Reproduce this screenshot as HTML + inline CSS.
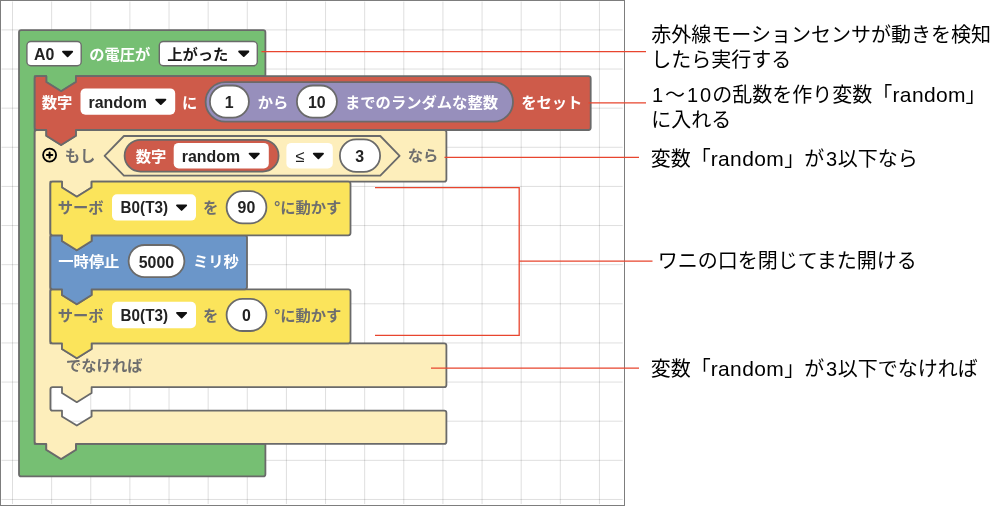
<!DOCTYPE html>
<html lang="ja"><head><meta charset="utf-8"><title>ブロックプログラムの説明</title>
<style>
html,body{margin:0;padding:0;background:#fff}
body{width:1000px;height:506px;overflow:hidden;font-family:"Liberation Sans","Noto Sans CJK JP",sans-serif}
svg{display:block;will-change:transform}
svg text{font-family:"Liberation Sans","Noto Sans CJK JP",sans-serif;font-weight:bold;font-size:15.9px}
svg text.bl{font-size:15.3px}
svg text.an{font-weight:normal;font-size:20px;fill:#000}
</style></head><body>
<svg width="1000" height="506" viewBox="0 0 1000 506">
<rect x="0.5" y="0.5" width="624" height="505" fill="#fff" stroke="#7d7d7d" stroke-width="1"/>
<path d="M12.5 1.5V504M51.63 1.5V504M90.76 1.5V504M129.89 1.5V504M169.02 1.5V504M208.15 1.5V504M247.28 1.5V504M286.41 1.5V504M325.54 1.5V504M364.67 1.5V504M403.8 1.5V504M442.93 1.5V504M482.06 1.5V504M521.19 1.5V504M560.32 1.5V504M599.45 1.5V504" stroke="#000" stroke-opacity="0.13" stroke-width="1" fill="none"/>
<path d="M1.5 29.9H622.7M1.5 69.03H622.7M1.5 108.16H622.7M1.5 147.29H622.7M1.5 186.42H622.7M1.5 225.55H622.7M1.5 264.68H622.7M1.5 303.81H622.7M1.5 342.94H622.7M1.5 382.07H622.7M1.5 421.2H622.7M1.5 460.33H622.7M1.5 499.46H622.7" stroke="#000" stroke-opacity="0.13" stroke-width="1" fill="none"/>
<path d="M19 32.3Q19 30.1 21.2 30.1L263.2 30.1 Q265.4 30.1 265.4 32.3L265.4 76.2L75.9 76.2 V82 L61.1 91.2 L46.3 82 V76.2L34.7 76.2L34.7 443.9L46.3 443.9 V449.7 L61.1 458.9 L75.9 449.7 V443.9L265.4 443.9L265.4 474.2 Q265.4 476.4 263.2 476.4L21.2 476.4 Q19 476.4 19 474.2 Z" fill="#76bf73" stroke="#6a6a6a" stroke-width="1.8" stroke-linejoin="round"/>
<path d="M34.7 132.2Q34.7 130 36.9 130L46.3 130 V135.8 L61.1 145 L75.9 135.8 V130L444.2 130 Q446.4 130 446.4 132.2L446.4 179.5 Q446.4 181.7 444.2 181.7L91.6 181.7 V187.5 L76.8 196.7 L62 187.5 V181.7L50.4 181.7 V343.3L62 343.3 V349.1 L76.8 358.3 L91.6 349.1 V343.3L444.2 343.3 Q446.4 343.3 446.4 345.5L446.4 385 Q446.4 387.2 444.2 387.2L91.6 387.2 V393 L76.8 402.2 L62 393 V387.2L52.6 387.2 Q50.4 387.2 50.4 389.4L50.4 408.4 Q50.4 410.6 52.6 410.6L62 410.6 V416.4 L76.8 425.6 L91.6 416.4 V410.6L444.2 410.6 Q446.4 410.6 446.4 412.8L446.4 441.7 Q446.4 443.9 444.2 443.9L75.9 443.9 V449.7 L61.1 458.9 L46.3 449.7 V443.9L36.9 443.9 Q34.7 443.9 34.7 441.7 Z" fill="#fdeebb" stroke="#6a6a6a" stroke-width="1.8" stroke-linejoin="round"/>
<path d="M50.4 291.5Q50.4 289.3 52.6 289.3L62 289.3 V295.1 L76.8 304.3 L91.6 295.1 V289.3L348.3 289.3 Q350.5 289.3 350.5 291.5L350.5 341.1 Q350.5 343.3 348.3 343.3L91.6 343.3 V349.1 L76.8 358.3 L62 349.1 V343.3L52.6 343.3 Q50.4 343.3 50.4 341.1 Z" fill="#fbe45b" stroke="#6a6a6a" stroke-width="1.8" stroke-linejoin="round"/>
<path d="M50.4 237.5Q50.4 235.3 52.6 235.3L62 235.3 V241.1 L76.8 250.3 L91.6 241.1 V235.3L244.8 235.3 Q247 235.3 247 237.5L247 287.1 Q247 289.3 244.8 289.3L91.6 289.3 V295.1 L76.8 304.3 L62 295.1 V289.3L52.6 289.3 Q50.4 289.3 50.4 287.1 Z" fill="#6b96c9" stroke="#6a6a6a" stroke-width="1.8" stroke-linejoin="round"/>
<path d="M50.4 183.9Q50.4 181.7 52.6 181.7L62 181.7 V187.5 L76.8 196.7 L91.6 187.5 V181.7L348.3 181.7 Q350.5 181.7 350.5 183.9L350.5 233.1 Q350.5 235.3 348.3 235.3L91.6 235.3 V241.1 L76.8 250.3 L62 241.1 V235.3L52.6 235.3 Q50.4 235.3 50.4 233.1 Z" fill="#fbe45b" stroke="#6a6a6a" stroke-width="1.8" stroke-linejoin="round"/>
<path d="M34.7 78.4Q34.7 76.2 36.9 76.2L46.3 76.2 V82 L61.1 91.2 L75.9 82 V76.2L588.5 76.2 Q590.7 76.2 590.7 78.4L590.7 127.8 Q590.7 130 588.5 130L75.9 130 V135.8 L61.1 145 L46.3 135.8 V130L36.9 130 Q34.7 130 34.7 127.8 Z" fill="#ce5b4a" stroke="#6a6a6a" stroke-width="1.8" stroke-linejoin="round"/>
<rect x="26.9" y="41.5" width="54.3" height="24.3" rx="4" fill="#fff" stroke="#6a6a6a" stroke-width="1.4"/>
<text x="34" y="59.5" text-anchor="start" fill="#222">A0</text>
<path d="M62.97 51.7L72.23 51.7L67.6 56.3Z" fill="#111" stroke="#111" stroke-width="1.8" stroke-linejoin="round"/>
<text class="bl" x="89.13" y="59.79" fill="#fff">の電圧が</text>
<rect x="159.3" y="41.5" width="98" height="24.3" rx="4" fill="#fff" stroke="#6a6a6a" stroke-width="1.4"/>
<text class="bl" x="167.13" y="59.79" fill="#1a1a1a">上がった</text>
<path d="M239.12 51.5L248.38 51.5L243.75 56.1Z" fill="#111" stroke="#111" stroke-width="1.8" stroke-linejoin="round"/>
<text class="bl" x="41.73" y="107.69" fill="#fff">数字</text>
<rect x="80.5" y="88.4" width="94.7" height="26.4" rx="5" fill="#fff"/>
<text x="88.5" y="107.6" text-anchor="start" fill="#222">random</text>
<path d="M156.17 99.55L165.43 99.55L160.8 104.15Z" fill="#111" stroke="#111" stroke-width="1.8" stroke-linejoin="round"/>
<text class="bl" x="182.03" y="107.69" fill="#fff">に</text>
<rect x="205.6" y="82.2" width="307.4" height="39.4" rx="19.7" fill="#978fbc" stroke="#6a6a6a" stroke-width="1.8"/>
<rect x="209.9" y="85.5" width="39" height="32.2" rx="16.1" fill="#fff" stroke="#6a6a6a" stroke-width="1.8"/>
<text x="229.2" y="107.6" text-anchor="middle" fill="#222">1</text>
<text class="bl" x="257.73" y="107.69" fill="#fff">から</text>
<rect x="296.9" y="85.5" width="40" height="32.2" rx="16.1" fill="#fff" stroke="#6a6a6a" stroke-width="1.8"/>
<text x="316.8" y="107.6" text-anchor="middle" fill="#222">10</text>
<text class="bl" x="345.03" y="107.69" fill="#fff">までのランダムな整数</text>
<text class="bl" x="521.23" y="107.69" fill="#fff">をセット</text>
<circle cx="49.6" cy="155.05" r="6.5" fill="none" stroke="#000" stroke-width="1.8"/>
<path d="M46.9 155.05H52.3M49.6 152.4V157.7" stroke="#000" stroke-width="2" stroke-linecap="round" fill="none"/>
<text class="bl" x="64.73" y="161.29" fill="#6e6e6e">もし</text>
<path d="M104.6 155.8L123.9 136.0H380.3L399.6 155.8L380.3 175.6H123.9Z" fill="#fdeebb" stroke="#6a6a6a" stroke-width="1.8" stroke-linejoin="round"/>
<rect x="124.6" y="139.8" width="154" height="31.8" rx="15.9" fill="#ce5b4a" stroke="#6a6a6a" stroke-width="1.8"/>
<text class="bl" x="135.73" y="161.69" fill="#fff">数字</text>
<rect x="173.7" y="142.9" width="95.1" height="25.6" rx="5" fill="#fff"/>
<text x="181.8" y="161.6" text-anchor="start" fill="#222">random</text>
<path d="M249.62 153.65L258.88 153.65L254.25 158.25Z" fill="#111" stroke="#111" stroke-width="1.8" stroke-linejoin="round"/>
<rect x="286.4" y="142.9" width="46.4" height="25.6" rx="5" fill="#fff"/>
<text x="295.3" y="162.3" fill="#222" style="font-weight:normal;font-size:16.5px">≤</text>
<path d="M313.77 153.65L323.03 153.65L318.4 158.25Z" fill="#111" stroke="#111" stroke-width="1.8" stroke-linejoin="round"/>
<rect x="339.9" y="139.4" width="40.2" height="32.5" rx="16.25" fill="#fff" stroke="#6a6a6a" stroke-width="1.8"/>
<text x="359.6" y="161.6" text-anchor="middle" fill="#222">3</text>
<text class="bl" x="407.73" y="161.39" fill="#6e6e6e">なら</text>
<text class="bl" x="57.73" y="213.49" fill="#6e6e6e">サーボ</text>
<rect x="112" y="194.2" width="84" height="26.4" rx="5" fill="#fff"/>
<text x="120.6" y="213.4" text-anchor="start" fill="#222" textLength="47.4" lengthAdjust="spacingAndGlyphs">B0(T3)</text>
<path d="M176.97 205.35L186.23 205.35L181.6 209.95Z" fill="#111" stroke="#111" stroke-width="1.8" stroke-linejoin="round"/>
<text class="bl" x="203.03" y="213.49" fill="#6e6e6e">を</text>
<rect x="226.6" y="191.2" width="39.8" height="32.2" rx="16.1" fill="#fff" stroke="#6a6a6a" stroke-width="1.8"/>
<text x="246.4" y="213.4" text-anchor="middle" fill="#222">90</text>
<text x="274.0" y="213.4" fill="#6e6e6e">°</text>
<text class="bl" x="280.13" y="213.49" fill="#6e6e6e">に動かす</text>
<text class="bl" x="57.73" y="321.09" fill="#6e6e6e">サーボ</text>
<rect x="112" y="301.8" width="84" height="26.4" rx="5" fill="#fff"/>
<text x="120.6" y="321" text-anchor="start" fill="#222" textLength="47.4" lengthAdjust="spacingAndGlyphs">B0(T3)</text>
<path d="M176.97 312.95L186.23 312.95L181.6 317.55Z" fill="#111" stroke="#111" stroke-width="1.8" stroke-linejoin="round"/>
<text class="bl" x="203.03" y="321.09" fill="#6e6e6e">を</text>
<rect x="226.6" y="298.8" width="39.8" height="32.2" rx="16.1" fill="#fff" stroke="#6a6a6a" stroke-width="1.8"/>
<text x="246.4" y="321" text-anchor="middle" fill="#222">0</text>
<text x="274.0" y="321" fill="#6e6e6e">°</text>
<text class="bl" x="280.13" y="321.09" fill="#6e6e6e">に動かす</text>
<text class="bl" x="58.13" y="267.29" fill="#fff">一時停止</text>
<rect x="128.6" y="245" width="55.8" height="32.2" rx="16.1" fill="#fff" stroke="#6a6a6a" stroke-width="1.8"/>
<text x="156.4" y="267.7" text-anchor="middle" fill="#222">5000</text>
<text class="bl" x="193.03" y="267.29" fill="#fff">ミリ秒</text>
<text class="bl" x="66.03" y="371.09" fill="#6e6e6e">でなければ</text>
<path d="M261.5 51.6H646 M588.5 102.8H646 M444.5 157.4H639 M375 187.6H519.2V335.4H375 M519.2 261.2H652.5 M431 368.2H639" fill="none" stroke="#e8452e" stroke-width="1.3"/>
<text class="an" x="651.3" y="42.3">赤外線モーションセンサが動きを検知</text>
<text class="an" x="651.3" y="67.1">したら実行する</text>
<text class="an" x="652" y="101.9" textLength="59" lengthAdjust="spacing">1〜10</text>
<text class="an" x="712.3" y="101.9">の乱数を作り変数「</text>
<text class="an" x="892.5" y="101.9" style="font-size:21px" textLength="73" lengthAdjust="spacing">random</text>
<text class="an" x="965.5" y="101.9">」</text>
<text class="an" x="651.3" y="126.9">に入れる</text>
<text class="an" x="650.8" y="165.6">変数「</text>
<text class="an" x="710.7" y="165.6" style="font-size:21px" textLength="73" lengthAdjust="spacing">random</text>
<text class="an" x="784.3" y="165.6">」が</text>
<text class="an" x="826" y="165.6">3</text>
<text class="an" x="837.8" y="165.6">以下なら</text>
<text class="an" x="657.7" y="268.3">ワニの口を閉じてまた開ける</text>
<text class="an" x="650.8" y="376.4">変数「</text>
<text class="an" x="710.7" y="376.4" style="font-size:21px" textLength="73" lengthAdjust="spacing">random</text>
<text class="an" x="784.3" y="376.4">」が</text>
<text class="an" x="826" y="376.4">3</text>
<text class="an" x="837.8" y="376.4">以下でなければ</text>
</svg>
</body></html>
